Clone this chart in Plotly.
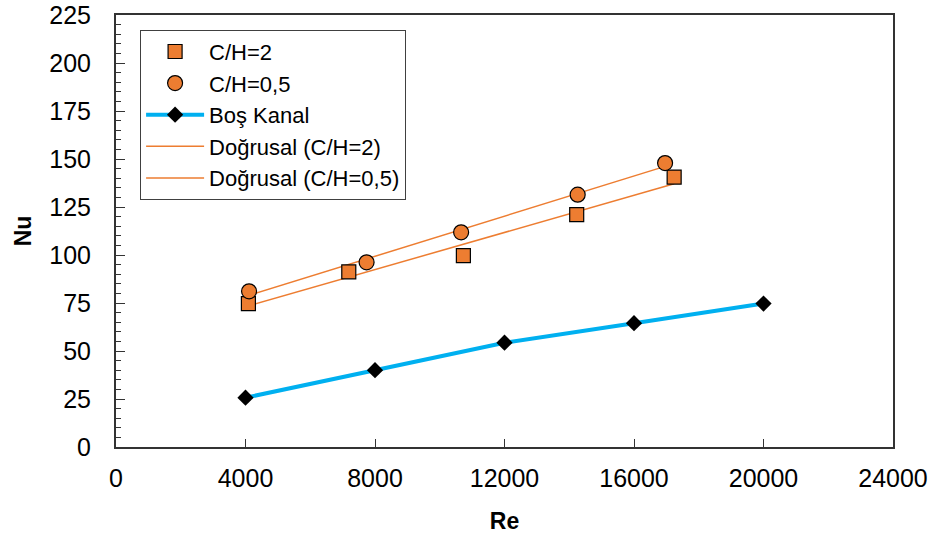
import numpy as np
import plotly.graph_objects as go

# Data
re_ch2 = [4090, 7190, 10730, 14230, 17240]
nu_ch2 = [74.7, 91.2, 99.7, 121.0, 140.6]
re_ch05 = [4110, 7740, 10660, 14260, 16960]
nu_ch05 = [81.1, 96.2, 111.8, 131.4, 147.9]
re_bos = [4000, 8000, 12000, 16000, 20000]
nu_bos = [25.7, 40.0, 54.3, 64.5, 74.7]

x_ticks = [0, 4000, 8000, 12000, 16000, 20000, 24000]
y_ticks = [0, 25, 50, 75, 100, 125, 150, 175, 200, 225]

ORANGE = "#ED7D31"
BLUE = "#00B0F0"
FONT = "Liberation Sans, Arial, sans-serif"

def fit_line(x, y):
    a, b = np.polyfit(x, y, 1)
    xs = np.array([min(x), max(x)])
    return xs, a * xs + b

fx2, fy2 = fit_line(re_ch2, nu_ch2)
fx05, fy05 = fit_line(re_ch05, nu_ch05)

fig = go.Figure()
fig.add_trace(go.Scatter(x=fx2, y=fy2, mode="lines", name="Doğrusal (C/H=2)",
                         line=dict(color=ORANGE, width=1.5), legendrank=4, legendgroup="d2"))
fig.add_trace(go.Scatter(x=fx05, y=fy05, mode="lines", name="Doğrusal (C/H=0,5)",
                         line=dict(color=ORANGE, width=1.5), legendrank=5, legendgroup="d05"))
fig.add_trace(go.Scatter(x=re_bos, y=nu_bos, mode="lines+markers", name="Boş Kanal",
                         line=dict(color=BLUE, width=4),
                         marker=dict(symbol="diamond", size=12.5, color="black"),
                         legendrank=3, legendgroup="b"))
fig.add_trace(go.Scatter(x=re_ch2, y=nu_ch2, mode="markers", name="C/H=2",
                         marker=dict(symbol="square", size=14, color=ORANGE,
                                     line=dict(color="black", width=1.2)),
                         legendrank=1, legendgroup="c2"))
fig.add_trace(go.Scatter(x=re_ch05, y=nu_ch05, mode="markers", name="C/H=0,5",
                         marker=dict(symbol="circle", size=15, color=ORANGE,
                                     line=dict(color="black", width=1.2)),
                         legendrank=2, legendgroup="c05"))

fig.update_layout(
    width=936, height=540,
    margin=dict(l=116, r=43, t=15, b=93, autoexpand=False),
    paper_bgcolor="white", plot_bgcolor="white",
    font=dict(family=FONT, color="black"),
    showlegend=True,
    legend=dict(x=0.031, y=0.966, xanchor="left", yanchor="top",
                bgcolor="white", bordercolor="#404040", borderwidth=1,
                font=dict(size=22, family=FONT), itemwidth=58,
                tracegroupgap=6, traceorder="normal"),
    xaxis=dict(range=[0, 24000], tickvals=x_ticks, ticktext=[str(v) for v in x_ticks],
               automargin=False,
               showgrid=False, zeroline=False, showline=True, linecolor="#333333",
               linewidth=2, mirror=True, ticks="inside", ticklen=8, tickcolor="#333333",
               tickfont=dict(size=25, family=FONT), ticklabelstandoff=8,
               title=dict(text="<b>Re</b>", font=dict(size=23, family=FONT), standoff=22)),
    yaxis=dict(range=[0, 225], tickvals=y_ticks, ticktext=[str(v) for v in y_ticks],
               automargin=False,
               showgrid=False, zeroline=False, showline=True, linecolor="#333333",
               linewidth=2, mirror=True, ticks="inside", ticklen=9, tickcolor="#333333",
               tickfont=dict(size=25, family=FONT), ticklabelstandoff=18,
               minor=dict(dtick=5, ticks="inside", ticklen=5, tickcolor="#333333", showgrid=False),
               title=dict(text="<b>Nu</b>", font=dict(size=23, family=FONT), standoff=11)),
)

fig.write_html("out.html")
